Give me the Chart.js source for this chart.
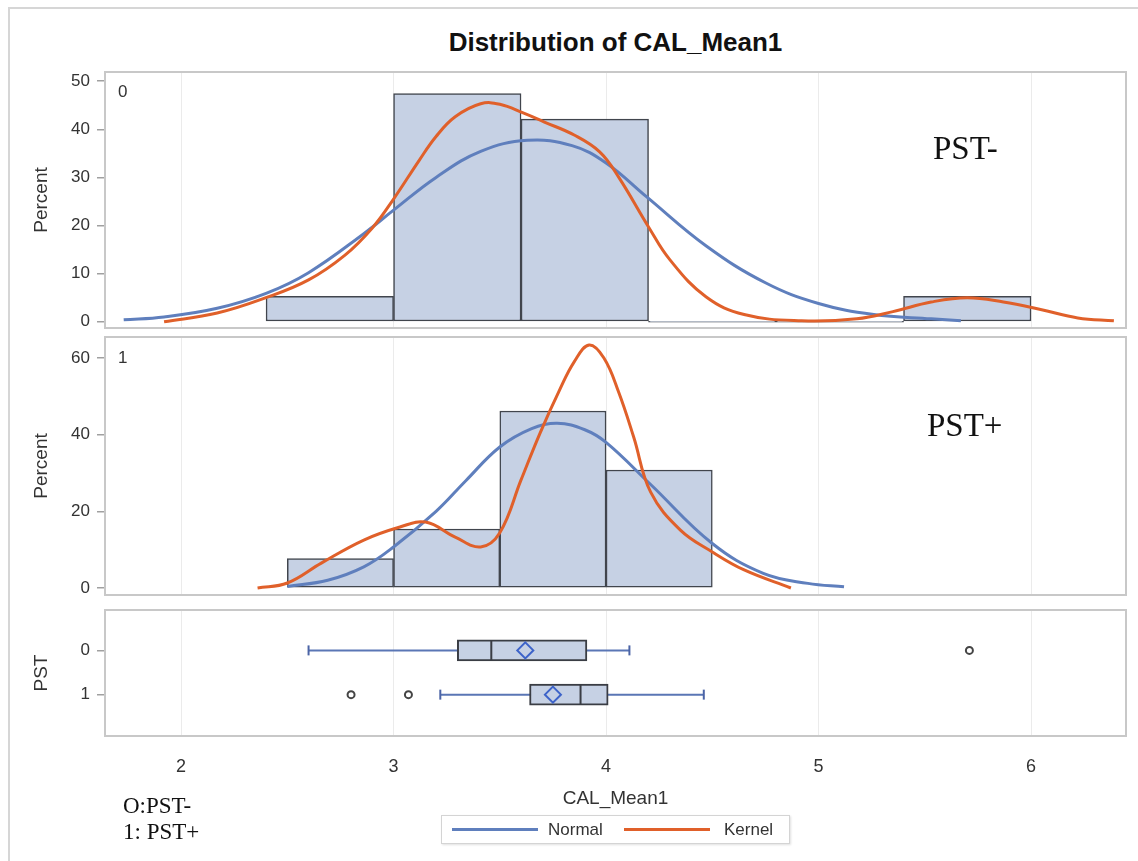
<!DOCTYPE html>
<html>
<head>
<meta charset="utf-8">
<title>Distribution of CAL_Mean1</title>
<script src="https://cdn.jsdelivr.net/npm/chart.js@4.4.1/dist/chart.umd.min.js"></script>
<style>
  body { margin: 0; background: #fff; }
  #page { position: relative; width: 1138px; height: 861px; overflow: hidden; font-family: "Liberation Sans", Arial, sans-serif; color: #222; }
  .frame { position: absolute; left: 8px; top: 7px; width: 1140px; height: 860px; border-left: 2px solid #d6d6d6; border-top: 2px solid #d6d6d6; }
  canvas { position: absolute; left: 0; }
  .txt { position: absolute; white-space: nowrap; }
  #title { left: 0; width: 1231px; top: 30px; text-align: center; font-size: 26px; line-height: 25px; font-weight: bold; color: #111; }
  .serif { font-family: "Liberation Serif", "Times New Roman", serif; color: #111; }
  .big { font-size: 33px; line-height: 33px; }
  .small { font-size: 23px; line-height: 22px; }
  .corner { font-size: 17px; line-height: 17px; color: #333; }
  #legend { position: absolute; left: 441px; top: 815px; width: 347px; height: 27px; border: 1px solid #d4d4d4; background: #fff; z-index: 2; box-shadow: 1px 1px 2px rgba(0,0,0,0.12); }
  #legend .sw { position: absolute; top: 12px; height: 3px; width: 86px; }
  #legend .lab { position: absolute; top: 4px; font-size: 17px; line-height: 19px; color: #333; }
</style>
</head>
<body>
<div id="page">
  <div class="frame"></div>
  <canvas id="histTop" width="1138" height="270" style="top:60px"></canvas>
  <canvas id="histMid" width="1138" height="268" style="top:330px"></canvas>
  <canvas id="boxes" width="1138" height="232" style="top:598px"></canvas>

  <div id="title" class="txt">Distribution of CAL_Mean1</div>
  <div class="txt corner" style="left:118px; top:83px">0</div>
  <div class="txt corner" style="left:118px; top:349px">1</div>
  <div class="txt serif big" style="left:933px; top:132px">PST-</div>
  <div class="txt serif big" style="left:927px; top:409px">PST+</div>
  <div class="txt serif small" style="left:123px; top:795px">O:PST-</div>
  <div class="txt serif small" style="left:123px; top:821px">1: PST+</div>

  <div id="legend">
    <div class="sw" style="left:10px; background:#5f7fbd"></div>
    <div class="lab" style="left:106px">Normal</div>
    <div class="sw" style="left:182px; background:#e0602a"></div>
    <div class="lab" style="left:282px">Kernel</div>
  </div>
</div>

<script>
// shared horizontal axis
const xTicks = [2, 3, 4, 5, 6];

// PST = 0 : histogram bins (width 0.6) and percent per bin
const binMid0 = [2.7, 3.3, 3.9, 4.5, 5.1, 5.7];
const pct0 = [5.3, 47.4, 42.1, 0, 0, 5.3];
const pctTicks0 = [0, 10, 20, 30, 40, 50];

// PST = 0 : fitted normal and kernel density curves
const normal0X = [1.73, 1.92, 2.17, 2.40, 2.60, 2.86, 3.00, 3.20, 3.41, 3.63, 3.84, 4.00, 4.19, 4.47, 4.75, 5.00, 5.26, 5.53, 5.67];
const normal0Y = [0.4, 1.0, 2.8, 5.9, 10.2, 18.3, 23.2, 30.0, 35.4, 37.7, 36.6, 33.0, 26.0, 15.8, 8.1, 3.8, 1.5, 0.6, 0.2];
const kernel0X = [1.92, 2.17, 2.40, 2.60, 2.77, 2.90, 3.00, 3.12, 3.20, 3.29, 3.41, 3.50, 3.61, 3.71, 3.85, 3.97, 4.06, 4.20, 4.30, 4.47, 4.65, 4.92, 5.18, 5.35, 5.53, 5.70, 5.87, 6.05, 6.22, 6.39];
const kernel0Y = [0.0, 1.8, 5.0, 8.7, 13.8, 19.5, 25.5, 33.5, 38.5, 42.6, 45.3, 45.2, 43.4, 41.5, 38.8, 35.3, 30.0, 19.7, 12.9, 5.2, 1.5, 0.2, 0.6, 2.1, 4.1, 5.0, 4.1, 2.5, 0.8, 0.2];

// PST = 1 : histogram bins (width 0.5) and percent per bin
const binMid1 = [2.75, 3.25, 3.75, 4.25];
const pct1 = [7.7, 15.4, 46.2, 30.8];
const pctTicks1 = [0, 20, 40, 60];

// PST = 1 : fitted normal and kernel density curves
const normal1X = [2.50, 2.69, 2.86, 3.00, 3.20, 3.34, 3.50, 3.65, 3.77, 3.90, 4.00, 4.21, 4.50, 4.74, 4.95, 5.12];
const normal1Y = [0.4, 2.0, 5.5, 10.7, 20.0, 28.0, 36.8, 41.6, 43.0, 41.3, 38.0, 27.0, 11.6, 3.8, 1.2, 0.3];
const kernel1X = [2.36, 2.50, 2.66, 2.86, 3.03, 3.15, 3.29, 3.41, 3.50, 3.60, 3.69, 3.78, 3.85, 3.92, 3.99, 4.06, 4.13, 4.21, 4.35, 4.50, 4.65, 4.87];
const kernel1Y = [0.0, 1.3, 6.5, 12.5, 15.9, 17.2, 13.3, 10.7, 14.4, 28.2, 40.5, 51.5, 59.0, 63.4, 60.0, 51.0, 39.4, 25.0, 15.1, 9.4, 4.7, 0.0];

// box plot summary by PST group
const groups = [0, 1];
const whiskerLo = [2.60, 3.22];
const q1 = [3.30, 3.64];
const median = [3.46, 3.88];
const q3 = [3.91, 4.01];
const whiskerHi = [4.11, 4.46];
const mean = [3.62, 3.75];
const outliers = [[5.71], [2.80, 3.07]];

const normalColor = '#5f7fbd';
const kernelColor = '#e0602a';
const barFill = '#c6d1e4';
const barEdge = '#41454d';

Chart.defaults.font.family = "'Liberation Sans', Arial, sans-serif";
Chart.defaults.color = '#333';

const pts = (xs, ys) => xs.map((x, i) => ({ x: x, y: ys[i] }));

// light frame around every panel
const panelFrame = {
  id: 'panelFrame',
  afterDraw(chart) {
    const { ctx, chartArea: a } = chart;
    ctx.save();
    ctx.strokeStyle = '#c8c8c8';
    ctx.lineWidth = 2;
    ctx.strokeRect(a.left, a.top, a.right - a.left, a.bottom - a.top);
    ctx.restore();
  }
};

// keep tick labels from pushing the plot area inwards
function noLabelPadding(s) {
  s.paddingTop = 0;
  s.paddingBottom = 0;
  s.paddingLeft = 0;
  s.paddingRight = 0;
}

function xScale(withLabels) {
  return {
    type: 'linear',
    min: 1.642,
    max: 6.447,
    offset: false,
    afterBuildTicks: s => { s.ticks = xTicks.map(v => ({ value: v })); },
    grid: { color: '#ebebeb', lineWidth: 1, drawTicks: false, offset: false },
    border: { display: false },
    ticks: { display: withLabels, padding: 20, color: '#333', font: { size: 18 } },
    title: withLabels
      ? { display: true, text: 'CAL_Mean1', color: '#333', font: { size: 19 }, padding: { top: 0, bottom: 20 } }
      : { display: false },
    afterFit: s => { s.height = withLabels ? 94 : 0; noLabelPadding(s); }
  };
}

function yScale(min, max, tickVals, label, reverse) {
  return {
    type: 'linear',
    min: min,
    max: max,
    reverse: !!reverse,
    offset: false,
    afterBuildTicks: s => { s.ticks = tickVals.map(v => ({ value: v })); },
    grid: { drawOnChartArea: false, drawTicks: true, tickLength: 8, tickColor: '#a0a0a0', lineWidth: 1.5, offset: false },
    border: { display: false },
    ticks: { padding: 7, color: '#333', font: { size: 17 } },
    title: { display: true, text: label, color: '#333', font: { size: 19 }, padding: { top: 30, bottom: 0 } },
    afterFit: s => { s.width = 105; noLabelPadding(s); }
  };
}

function baseOptions(pad, yOpts, withLabels) {
  return {
    responsive: false,
    animation: false,
    devicePixelRatio: 1,
    layout: { padding: pad },
    plugins: { legend: { display: false }, tooltip: { enabled: false } },
    scales: { x: xScale(withLabels), y: yOpts }
  };
}

function histogram(canvasId, mids, pcts, nX, nY, kX, kY, yMin, yMax, ticks, pad) {
  return new Chart(document.getElementById(canvasId), {
    type: 'bar',
    data: {
      datasets: [
        { type: 'line', label: 'Kernel', data: pts(kX, kY), borderColor: kernelColor, borderWidth: 3,
          pointRadius: 0, tension: 0.4, order: 1 },
        { type: 'line', label: 'Normal', data: pts(nX, nY), borderColor: normalColor, borderWidth: 3,
          pointRadius: 0, tension: 0.4, order: 2 },
        { type: 'bar', label: 'Percent', data: pts(mids, pcts), backgroundColor: barFill, borderColor: barEdge,
          borderWidth: 1.5, borderSkipped: false, barPercentage: 1, categoryPercentage: 1, minBarLength: 1, order: 3 }
      ]
    },
    options: baseOptions(pad, yScale(yMin, yMax, ticks, 'Percent'), false),
    plugins: [panelFrame]
  });
}

histogram('histTop', binMid0, pct0, normal0X, normal0Y, kernel0X, kernel0Y, -1.3, 51.9, pctTicks0,
  { left: 0, right: 12, top: 12, bottom: 2 });
histogram('histMid', binMid1, pct1, normal1X, normal1Y, kernel1X, kernel1Y, -1.83, 65.5, pctTicks1,
  { left: 0, right: 12, top: 7, bottom: 3 });

// horizontal box plots, one row per PST group
const whiskerSets = groups.map(g => ({
  type: 'line',
  data: [{ x: whiskerLo[g], y: g }, { x: whiskerHi[g], y: g }],
  borderColor: '#5a76b5', borderWidth: 2,
  pointStyle: 'line', pointRotation: 90, pointRadius: 5,
  pointBorderColor: '#4b64a6', pointBorderWidth: 2,
  order: 4
}));

new Chart(document.getElementById('boxes'), {
  type: 'scatter',
  data: {
    datasets: [
      { type: 'scatter', label: 'Mean', data: groups.map(g => ({ x: mean[g], y: g })),
        pointStyle: 'rectRot', pointRadius: 8, pointBackgroundColor: barFill,
        pointBorderColor: '#3d63c9', pointBorderWidth: 2, order: 0 },
      { type: 'scatter', label: 'Median', data: groups.map(g => ({ x: median[g], y: g })),
        pointStyle: 'line', pointRotation: 90, pointRadius: 10,
        pointBorderColor: '#3a3d44', pointBorderWidth: 2, order: 1 },
      { type: 'scatter', label: 'Outliers',
        data: groups.flatMap(g => outliers[g].map(v => ({ x: v, y: g }))),
        pointStyle: 'circle', pointRadius: 3.5, pointBackgroundColor: '#fff',
        pointBorderColor: '#444', pointBorderWidth: 2, order: 1 },
      { type: 'bar', label: 'IQR', indexAxis: 'y',
        data: groups.map(g => ({ x: [q1[g], q3[g]], y: g })),
        backgroundColor: barFill, borderColor: '#3a3d44', borderWidth: 2, borderSkipped: false,
        barThickness: 21, order: 2 },
      ...whiskerSets
    ]
  },
  options: baseOptions({ left: 0, right: 12, top: 7, bottom: 0 },
    yScale(-0.913, 1.935, groups, 'PST', true), true),
  plugins: [panelFrame]
});
</script>
</body>
</html>
